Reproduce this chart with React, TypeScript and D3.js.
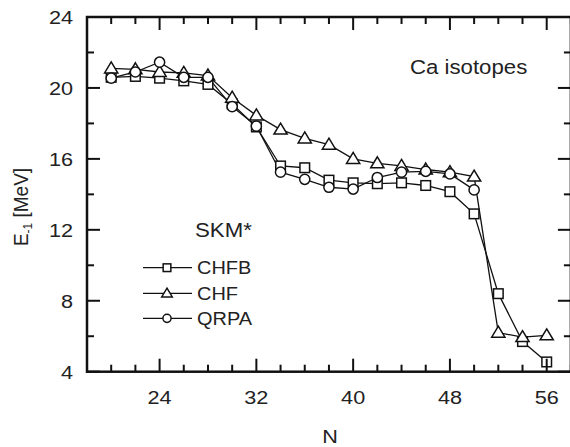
import React from "react";
import * as d3 from "d3";

const N = [20, 22, 24, 26, 28, 30, 32, 34, 36, 38, 40, 42, 44, 46, 48, 50, 52, 54, 56];
const CHFB = [20.6, 20.65, 20.55, 20.4, 20.2, 19.1, 17.8, 15.6, 15.5, 14.8, 14.65, 14.6, 14.65, 14.5, 14.15, 12.9, 8.4, 5.7, 4.55];
const CHF = [21.1, 21.05, 20.9, 20.85, 20.7, 19.45, 18.45, 17.65, 17.15, 16.8, 16.0, 15.75, 15.6, 15.4, 15.25, 15.0, 6.2, 5.95, 6.05];
const QRPA_N = [20, 22, 24, 26, 28, 30, 32, 34, 36, 38, 40, 42, 44, 46, 48, 50];
const QRPA = [20.55, 20.9, 21.45, 20.6, 20.6, 18.95, 17.85, 15.25, 14.85, 14.4, 14.3, 14.95, 15.25, 15.3, 15.15, 14.25];
const xTickLabels = [24, 32, 40, 48, 56];
const yTickLabels = [4, 8, 12, 16, 20, 24];
const legendNames = ["CHFB", "CHF", "QRPA"];

const FONT = "'Liberation Sans', Arial, sans-serif";
const SX = 1.14;

type Shape = "square" | "triangle" | "circle";

function Marker({ shape, cx, cy, s = 1 }: { shape: Shape; cx: number; cy: number; s?: number }) {
  const common = { fill: "white", stroke: "#111", strokeWidth: 1.5 };
  if (shape === "square") {
    const h = 4.8 * s;
    return <rect x={cx - h} y={cy - h} width={2 * h} height={2 * h} {...common} />;
  }
  if (shape === "triangle") {
    const w = 6.6 * s;
    const up = 6.5 * s;
    const dn = 4.5 * s;
    return <path d={`M${cx},${cy - up}L${cx + w},${cy + dn}L${cx - w},${cy + dn}Z`} {...common} />;
  }
  return <circle cx={cx} cy={cy} r={5.1 * s} {...common} />;
}

export default function App() {
  const W = 570, H = 447;
  const x = d3.scaleLinear().domain([18, 58]).range([87, 570.9]);
  const y = d3.scaleLinear().domain([4, 24]).range([371.7, 17]);
  const line = d3.line<[number, number]>().x(d => x(d[0])).y(d => y(d[1]));

  const series: { xs: number[]; ys: number[]; shape: Shape }[] = [
    { xs: N, ys: CHFB, shape: "square" },
    { xs: N, ys: CHF, shape: "triangle" },
    { xs: QRPA_N, ys: QRPA, shape: "circle" },
  ];

  const x0 = x(18), x1 = x(58), y0 = y(4), y1 = y(24);
  const xTicks = d3.range(18, 58.1, 2);
  const yTicks = d3.range(4, 24.1, 2);
  const MAJ = 13, MIN = 7;

  const legendY = [267.7, 293.3, 318.3];
  const legendShapes: Shape[] = ["square", "triangle", "circle"];

  return (
    <svg width={W} height={H} style={{ position: "absolute", left: 0, top: 0, background: "white" }} fontFamily={FONT}>
      <rect width={W} height={H} fill="white" />
      {series.map((s, i) => (
        <path key={"l" + i} d={line(s.xs.map((v, j) => [v, s.ys[j]]) as [number, number][]) || ""} fill="none" stroke="#111" strokeWidth={1.3} />
      ))}
      {series.map((s, i) => (
        <g key={"m" + i}>
          {s.xs.map((v, j) => (
            <Marker key={j} shape={s.shape} cx={x(v)} cy={y(s.ys[j])} />
          ))}
        </g>
      ))}
      <g stroke="#111" strokeWidth={2}>
        {xTicks.map(t => {
          const len = (t - 24) % 8 === 0 ? MAJ : MIN;
          return (
            <g key={"xt" + t}>
              <line x1={x(t)} x2={x(t)} y1={y0} y2={y0 - len} />
              <line x1={x(t)} x2={x(t)} y1={y1} y2={y1 + len} />
            </g>
          );
        })}
        {yTicks.map(t => {
          const len = t % 4 === 0 ? MAJ : MIN;
          return (
            <g key={"yt" + t}>
              <line x1={x0} x2={x0 + len} y1={y(t)} y2={y(t)} />
              <line x1={x1} x2={x1 - len} y1={y(t)} y2={y(t)} />
            </g>
          );
        })}
      </g>
      <rect x={x0} y={y1} width={x1 - x0} height={y0 - y1} fill="none" stroke="#111" strokeWidth={2.5} />
      <g fontSize={19} fill="#222">
        {xTickLabels.map(t => (
          <text key={"xl" + t} transform={`translate(${x(t)},404) scale(${SX},1)`} textAnchor="middle">{t}</text>
        ))}
        {yTickLabels.map(t => (
          <text key={"yl" + t} transform={`translate(73,${y(t) + 7}) scale(${SX},1)`} textAnchor="end">{t}</text>
        ))}
      </g>
      <text transform={`translate(330,443) scale(${SX},1)`} textAnchor="middle" fontSize={19} fill="#222">N</text>
      <text transform="translate(28,207) rotate(-90) scale(1,1.1)" textAnchor="middle" fontSize={19} fill="#222">
        E<tspan fontSize={12} dy={4}>-1</tspan><tspan dy={-4}> [MeV]</tspan>
      </text>
      <text transform={`translate(410,74) scale(${SX},1)`} fontSize={19.5} fill="#222">Ca isotopes</text>
      <text transform={`translate(195,237) scale(${SX},1)`} fontSize={19.5} fill="#222">SKM*</text>
      {legendNames.map((name, i) => (
        <g key={"lg" + i}>
          <line x1={143} x2={192} y1={legendY[i]} y2={legendY[i]} stroke="#111" strokeWidth={1.3} />
          <Marker shape={legendShapes[i]} cx={167} cy={legendY[i]} s={0.8} />
          <text transform={`translate(197,${legendY[i] + 6.5}) scale(${SX},1)`} fontSize={17.5} fill="#222">{name}</text>
        </g>
      ))}
    </svg>
  );
}
